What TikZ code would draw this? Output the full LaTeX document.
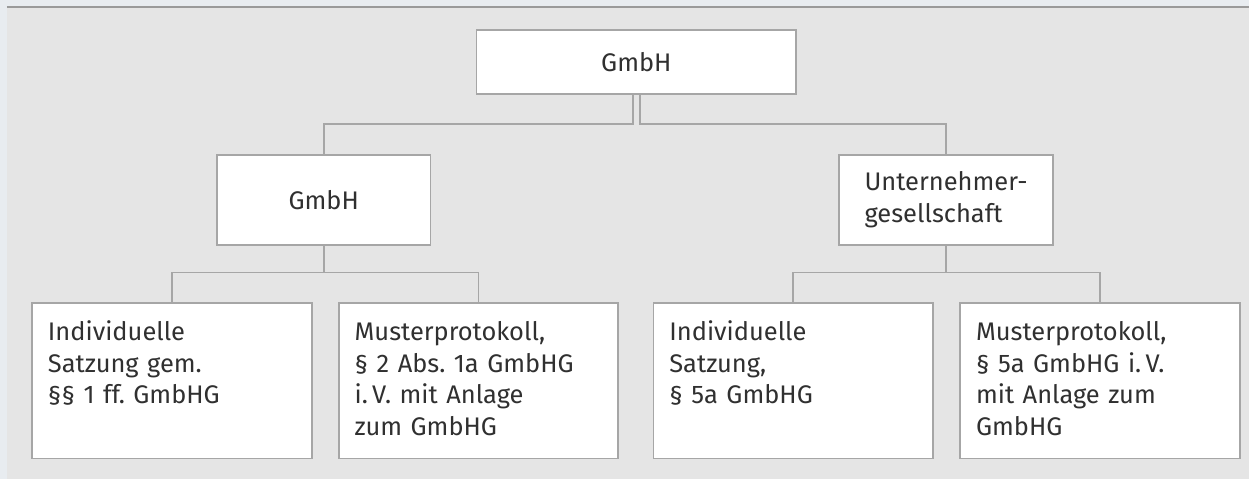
\documentclass[tikz,border=0pt]{standalone}
\usepackage{fontspec}
\setmainfont{Fira Sans}
\usetikzlibrary{positioning}

\definecolor{pagebg}{HTML}{E8ECF0}
\definecolor{panelbg}{HTML}{E5E5E5}
\definecolor{rulegray}{HTML}{9A9A9A}
\definecolor{boxline}{HTML}{A6A6A6}
\definecolor{textgray}{HTML}{303030}

\tikzset{
  box/.style={draw=boxline, line width=1pt, fill=white, text=textgray,
    font=\fontsize{14.5}{18}\selectfont},
  rootbox/.style={box, minimum width=6.4cm, minimum height=1.28cm},
  midbox/.style={box, minimum width=4.28cm, minimum height=1.8cm, align=left},
  leafbox/.style={box, text width=4.96cm, inner xsep=0.32cm, inner ysep=0pt,
    align=left, text height=0.76cm, text depth=2.36cm},
  link/.style={draw=boxline, line width=1pt},
}

\begin{document}
\begin{tikzpicture}[x=0.02cm, y=-0.02cm]

  % Background panel
  \fill[pagebg] (0,0) rectangle (1250,479);
  \fill[panelbg] (7,7) rectangle (1250,479);
  \draw[rulegray, line width=0.05cm] (7,7) -- (1250,7);
  \useasboundingbox (0,0) rectangle (1250,479);

  % Top level
  \node[rootbox] (root) at (637,62) {GmbH};

  % Second level
  \node[midbox] (gmbh) at (324,200) {GmbH};
  \node[midbox] (ug) at (947,200) {Unternehmer-\\gesellschaft};

  % Third level
  \node[leafbox] (gmbhSatzung) at (172,381)
    {Individuelle\\Satzung gem.\\§§ 1 ff.\ GmbHG};
  \node[leafbox] (gmbhMuster) at (479,381)
    {Musterprotokoll,\\§ 2 Abs.\ 1a GmbHG\\i.\,V.\ mit Anlage\\zum GmbHG};
  \node[leafbox] (ugSatzung) at (794,381)
    {Individuelle\\Satzung,\\§ 5a GmbHG};
  \node[leafbox] (ugMuster) at (1101,381)
    {Musterprotokoll,\\§ 5a GmbHG i.\,V.\\mit Anlage zum\\GmbHG};

  % Links
  \draw[link] ([xshift=-0.07cm]root.south) -- ++(0,29) -| (gmbh.north);
  \draw[link] ([xshift=0.07cm]root.south) -- ++(0,29) -| (ug.north);
  \draw[link] (gmbh.south) -- ++(0,27) -| (gmbhSatzung.north);
  \draw[link] (gmbh.south) -- ++(0,27) -| (gmbhMuster.north);
  \draw[link] (ug.south) -- ++(0,27) -| (ugSatzung.north);
  \draw[link] (ug.south) -- ++(0,27) -| (ugMuster.north);
\end{tikzpicture}
\end{document}
